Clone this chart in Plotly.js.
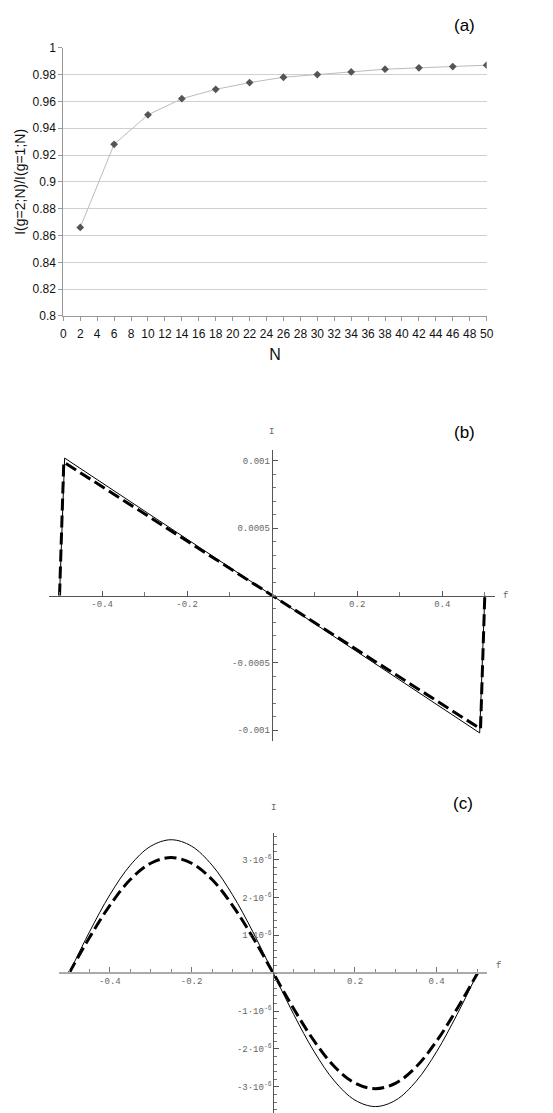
<!DOCTYPE html>
<html>
<head>
<meta charset="utf-8">
<script src="https://cdn.plot.ly/plotly-3.0.1.min.js"></script>
<style>
  html, body { margin: 0; padding: 0; background: #fff; }
  #container { width: 553px; height: 1113px; }
</style>
</head>
<body>
<div id="container"></div>
<script>
// panel (a): ratio against N
var nVals = [2, 6, 10, 14, 18, 22, 26, 30, 34, 38, 42, 46, 50];
var ratioVals = [0.866, 0.928, 0.950, 0.962, 0.969, 0.974, 0.978, 0.980, 0.982, 0.984, 0.985, 0.986, 0.987];

// panel (b): sawtooth current
var fSawSolid = [-0.5, -0.488, 0, 0.488, 0.5];
var iSawSolid = [0, 0.00102, 0, -0.00102, 0];
var fSawDash = [-0.5, -0.49, 0, 0.49, 0.5];
var iSawDash = [0, 0.00099, 0, -0.00099, 0];

// panel (c): sine-like current
var fSine = [-0.5, -0.45, -0.4, -0.35, -0.3, -0.25, -0.2, -0.15, -0.1, -0.05, 0,
             0.05, 0.1, 0.15, 0.2, 0.25, 0.3, 0.35, 0.4, 0.45, 0.5];
var iSineSolid = [0, 1.09e-6, 2.07e-6, 2.85e-6, 3.35e-6, 3.52e-6, 3.35e-6, 2.85e-6, 2.07e-6, 1.09e-6, 0,
                  -1.09e-6, -2.07e-6, -2.85e-6, -3.35e-6, -3.52e-6, -3.35e-6, -2.85e-6, -2.07e-6, -1.09e-6, 0];
var iSineDash = [0, 0.94e-6, 1.79e-6, 2.47e-6, 2.90e-6, 3.05e-6, 2.90e-6, 2.47e-6, 1.79e-6, 0.94e-6, 0,
                 -0.94e-6, -1.79e-6, -2.47e-6, -2.90e-6, -3.05e-6, -2.90e-6, -2.47e-6, -1.79e-6, -0.94e-6, 0];

var yTicksB = [-0.001, -0.0005, 0.0005, 0.001];
var yTextB = ['-0.001', '-0.0005', '0.0005', '0.001'];
var yTicksC = [-3e-6, -2e-6, -1e-6, 1e-6, 2e-6, 3e-6];
var yTextC = ['-3\u00b710<sup>-6</sup>', '-2\u00b710<sup>-6</sup>', '-1\u00b710<sup>-6</sup>',
              '1\u00b710<sup>-6</sup>', '2\u00b710<sup>-6</sup>', '3\u00b710<sup>-6</sup>'];
var fTicks = [-0.4, -0.2, 0.2, 0.4];
var fText = ['-0.4', '-0.2', '0.2', '0.4'];

var mono = { family: 'Liberation Mono, Courier New, monospace', size: 9, color: '#666' };
var sans = 'Liberation Sans, Arial, sans-serif';

var data = [
    { x: nVals, y: ratioVals, mode: 'lines+markers', type: 'scatter', xaxis: 'x', yaxis: 'y',
      line: { color: '#bbb', width: 1 }, marker: { symbol: 'diamond', size: 6, color: '#555' } },
    { x: fSawSolid, y: iSawSolid, mode: 'lines', type: 'scatter', xaxis: 'x2', yaxis: 'y2',
      line: { color: '#000', width: 1 } },
    { x: fSawDash, y: iSawDash, mode: 'lines', type: 'scatter', xaxis: 'x2', yaxis: 'y2',
      line: { color: '#000', width: 3, dash: '12px,5px' } },
    { x: fSine, y: iSineSolid, mode: 'lines', type: 'scatter', xaxis: 'x3', yaxis: 'y3',
      line: { color: '#000', width: 1, shape: 'spline' } },
    { x: fSine, y: iSineDash, mode: 'lines', type: 'scatter', xaxis: 'x3', yaxis: 'y3',
      line: { color: '#000', width: 3, dash: '12px,5px', shape: 'spline' } }
];

var layout = {
    width: 553,
    height: 1113,
    margin: { l: 0, r: 0, t: 0, b: 0 },
    paper_bgcolor: '#fff',
    plot_bgcolor: 'rgba(0,0,0,0)',
    showlegend: false,
    font: { family: sans, color: '#000' },
    xaxis: {
        domain: [0.1145, 0.880], anchor: 'y', range: [0, 50], dtick: 2, tick0: 0,
        showgrid: false, zeroline: false, showline: true, linecolor: '#999', linewidth: 1,
        ticks: 'outside', ticklen: 4, tickcolor: '#999', ticklabelstandoff: 3,
        tickfont: { family: sans, size: 12, color: '#111' },
        title: { text: 'N', font: { family: sans, size: 16, color: '#111' }, standoff: 8 }
    },
    yaxis: {
        domain: [0.7161, 0.9571], anchor: 'x', range: [0.8, 1], dtick: 0.02,
        showgrid: true, gridcolor: '#d0d0d0', zeroline: false,
        showline: true, linecolor: '#999', linewidth: 1,
        ticks: 'outside', ticklen: 4, tickcolor: '#999',
        tickfont: { family: sans, size: 12, color: '#111' },
        title: { text: 'I(g=2;N)/I(g=1;N)', font: { family: sans, size: 14, color: '#111' }, standoff: 3 }
    },
    xaxis2: {
        domain: [0.0892, 0.8951], anchor: 'free', position: 0.4648, range: [-0.524, 0.524],
        tickmode: 'array', tickvals: fTicks, ticktext: fText,
        showgrid: false, zeroline: false, showline: true, linecolor: '#555', linewidth: 1,
        ticks: 'inside', ticklen: 5, tickcolor: '#555', tickfont: mono,
        minor: { dtick: 0.1, tick0: 0, ticks: 'inside', ticklen: 4, tickcolor: '#777' }
    },
    yaxis2: {
        domain: [0.3342, 0.5957], anchor: 'free', position: 0.4913, range: [-0.00108, 0.00108],
        tickmode: 'array', tickvals: yTicksB, ticktext: yTextB,
        showgrid: false, zeroline: false, showline: true, linecolor: '#555', linewidth: 1,
        ticks: 'inside', ticklen: 5, tickcolor: '#555', tickfont: mono,
        minor: { dtick: 0.0001, tick0: 0, ticks: 'inside', ticklen: 3, tickcolor: '#777' }
    },
    xaxis3: {
        domain: [0.1072, 0.8812], anchor: 'free', position: 0.1261, range: [-0.524, 0.524],
        tickmode: 'array', tickvals: fTicks, ticktext: fText,
        showgrid: false, zeroline: false, showline: true, linecolor: '#aaa', linewidth: 2,
        ticks: 'inside', ticklen: 5, tickcolor: '#777', tickfont: mono,
        minor: { dtick: 0.05, tick0: 0, ticks: 'inside', ticklen: 3, tickcolor: '#888' }
    },
    yaxis3: {
        domain: [0, 0.2513], anchor: 'free', position: 0.4942, range: [-3.69e-6, 3.69e-6],
        tickmode: 'array', tickvals: yTicksC, ticktext: yTextC,
        showgrid: false, zeroline: false, showline: true, linecolor: '#555', linewidth: 1,
        ticks: 'inside', ticklen: 5, tickcolor: '#555', tickfont: mono,
        minor: { dtick: 2e-7, tick0: 0, ticks: 'inside', ticklen: 3, tickcolor: '#777' }
    },
    annotations: [
        { text: '(a)', xref: 'paper', yref: 'paper', x: 476.7 / 553, y: 1 - 14 / 1113,
          showarrow: false, font: { family: sans, size: 17, color: '#000' } },
        { text: '(b)', xref: 'paper', yref: 'paper', x: 476.7 / 553, y: 1 - 432 / 1113,
          showarrow: false, font: { family: sans, size: 17, color: '#000' } },
        { text: '(c)', xref: 'paper', yref: 'paper', x: 475 / 553, y: 1 - 815 / 1113,
          showarrow: false, font: { family: sans, size: 17, color: '#000' } },
        { text: 'I', xref: 'paper', yref: 'paper', x: 271.7 / 553, y: 1 - 432 / 1113,
          showarrow: false, font: mono },
        { text: 'f', xref: 'paper', yref: 'paper', x: 510 / 553, y: 1 - 595.7 / 1113,
          showarrow: false, font: mono },
        { text: 'I', xref: 'paper', yref: 'paper', x: 273.3 / 553, y: 1 - 815 / 1113,
          showarrow: false, font: mono },
        { text: 'f', xref: 'paper', yref: 'paper', x: 502.7 / 553, y: 1 - 972.7 / 1113,
          showarrow: false, font: mono }
    ]
};

Plotly.newPlot('container', data, layout, { displayModeBar: false, staticPlot: true });
</script>
</body>
</html>
